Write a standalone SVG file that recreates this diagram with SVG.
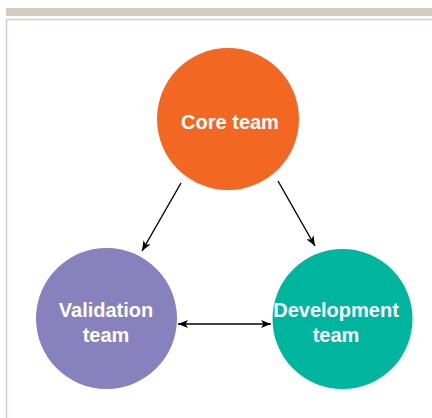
<svg xmlns="http://www.w3.org/2000/svg" width="432" height="418" viewBox="0 0 432 418">
<style>
.lbl{font-family:"Liberation Sans",Arial,sans-serif;font-weight:bold;font-size:20px;fill:#ffffff;text-anchor:middle}
.con{stroke:#000;stroke-width:1.4;fill:none}
</style>
<defs>
<marker id="ah" viewBox="0 0 10 8" refX="10" refY="4" markerWidth="10" markerHeight="8" markerUnits="userSpaceOnUse" orient="auto-start-reverse">
<path d="M0,0 L10,4 L0,8 L2.5,4 Z" fill="#000"/>
</marker>
</defs>
<rect x="0" y="0" width="432" height="418" fill="#fff"/>
<rect x="6" y="8" width="426" height="8" fill="#d5ccc1"/>
<path d="M6.5,418 V19.5 H432" fill="none" stroke="#d5ccc1" stroke-width="1.5"/>
<g id="connectors">
<line class="con" x1="181" y1="183" x2="142" y2="251" marker-end="url(#ah)"/>
<line class="con" x1="278" y1="181" x2="315" y2="246" marker-end="url(#ah)"/>
<line class="con" x1="178" y1="324" x2="271" y2="324" marker-start="url(#ah)" marker-end="url(#ah)"/>
</g>
<g id="core">
<circle cx="228" cy="119" r="71" fill="#f26722"/>
<text class="lbl" x="230" y="129">Core team</text>
</g>
<g id="validation">
<circle cx="106.5" cy="318.5" r="70.5" fill="#8781bd"/>
<text class="lbl" x="106" y="317">Validation</text>
<text class="lbl" x="106" y="342">team</text>
</g>
<g id="development">
<circle cx="342.5" cy="319" r="70" fill="#00b59e"/>
<text class="lbl" x="336" y="317">Development</text>
<text class="lbl" x="336" y="342">team</text>
</g>
</svg>
